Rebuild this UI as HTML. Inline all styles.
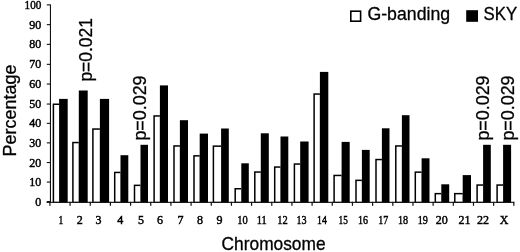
<!DOCTYPE html><html><head><meta charset="utf-8"><style>html,body{margin:0;padding:0;background:#fff;}body{width:520px;height:252px;overflow:hidden;}svg{display:block;filter:grayscale(1);}.s{font-family:"Liberation Sans",sans-serif;stroke:#000;stroke-width:0.3px;}.r{font-family:"Liberation Serif",serif;font-weight:bold;}.q{font-family:"Liberation Serif",serif;}</style></head><body>
<svg width="520" height="252" viewBox="0 0 520 252">
<rect x="0" y="0" width="520" height="252" fill="#fff"/>
<rect x="52.65" y="103.50" width="6.45" height="99.30" fill="#000"/>
<rect x="54.15" y="105.00" width="4.95" height="96.80" fill="#fff"/>
<rect x="59.10" y="98.90" width="8.60" height="103.90" fill="#000"/>
<rect x="72.15" y="141.80" width="6.65" height="61.00" fill="#000"/>
<rect x="73.65" y="143.30" width="5.15" height="58.50" fill="#fff"/>
<rect x="78.80" y="90.50" width="8.90" height="112.30" fill="#000"/>
<rect x="92.15" y="128.30" width="7.75" height="74.50" fill="#000"/>
<rect x="93.65" y="129.80" width="6.25" height="72.00" fill="#fff"/>
<rect x="99.90" y="98.90" width="9.20" height="103.90" fill="#000"/>
<rect x="113.95" y="171.70" width="6.55" height="31.10" fill="#000"/>
<rect x="115.45" y="173.20" width="5.05" height="28.60" fill="#fff"/>
<rect x="120.50" y="155.20" width="7.80" height="47.60" fill="#000"/>
<rect x="133.75" y="184.60" width="6.75" height="18.20" fill="#000"/>
<rect x="135.25" y="186.10" width="5.25" height="15.70" fill="#fff"/>
<rect x="140.50" y="144.80" width="7.50" height="58.00" fill="#000"/>
<rect x="153.35" y="115.20" width="6.55" height="87.60" fill="#000"/>
<rect x="154.85" y="116.70" width="5.05" height="85.10" fill="#fff"/>
<rect x="159.90" y="85.40" width="8.10" height="117.40" fill="#000"/>
<rect x="173.25" y="145.20" width="6.65" height="57.60" fill="#000"/>
<rect x="174.75" y="146.70" width="5.15" height="55.10" fill="#fff"/>
<rect x="179.90" y="120.20" width="8.10" height="82.60" fill="#000"/>
<rect x="193.25" y="155.10" width="6.45" height="47.70" fill="#000"/>
<rect x="194.75" y="156.60" width="4.95" height="45.20" fill="#fff"/>
<rect x="199.70" y="133.60" width="8.30" height="69.20" fill="#000"/>
<rect x="212.65" y="145.40" width="8.45" height="57.40" fill="#000"/>
<rect x="214.15" y="146.90" width="6.95" height="54.90" fill="#fff"/>
<rect x="221.10" y="128.50" width="7.70" height="74.30" fill="#000"/>
<rect x="234.45" y="188.00" width="6.85" height="14.80" fill="#000"/>
<rect x="235.95" y="189.50" width="5.35" height="12.30" fill="#fff"/>
<rect x="241.30" y="163.30" width="7.50" height="39.50" fill="#000"/>
<rect x="254.05" y="171.30" width="6.75" height="31.50" fill="#000"/>
<rect x="255.55" y="172.80" width="5.25" height="29.00" fill="#fff"/>
<rect x="260.80" y="133.30" width="8.00" height="69.50" fill="#000"/>
<rect x="273.95" y="166.30" width="6.55" height="36.50" fill="#000"/>
<rect x="275.45" y="167.80" width="5.05" height="34.00" fill="#fff"/>
<rect x="280.50" y="136.50" width="7.80" height="66.30" fill="#000"/>
<rect x="293.65" y="163.30" width="6.55" height="39.50" fill="#000"/>
<rect x="295.15" y="164.80" width="5.05" height="37.00" fill="#fff"/>
<rect x="300.20" y="141.50" width="8.40" height="61.30" fill="#000"/>
<rect x="313.35" y="93.30" width="6.55" height="109.50" fill="#000"/>
<rect x="314.85" y="94.80" width="5.05" height="107.00" fill="#fff"/>
<rect x="319.90" y="71.90" width="8.40" height="130.90" fill="#000"/>
<rect x="333.35" y="174.70" width="8.25" height="28.10" fill="#000"/>
<rect x="334.85" y="176.20" width="6.75" height="25.60" fill="#fff"/>
<rect x="341.60" y="141.90" width="8.10" height="60.90" fill="#000"/>
<rect x="355.25" y="179.60" width="6.65" height="23.20" fill="#000"/>
<rect x="356.75" y="181.10" width="5.15" height="20.70" fill="#fff"/>
<rect x="361.90" y="149.90" width="7.80" height="52.90" fill="#000"/>
<rect x="375.25" y="158.80" width="6.65" height="44.00" fill="#000"/>
<rect x="376.75" y="160.30" width="5.15" height="41.50" fill="#fff"/>
<rect x="381.90" y="128.30" width="7.60" height="74.50" fill="#000"/>
<rect x="395.05" y="145.20" width="6.85" height="57.60" fill="#000"/>
<rect x="396.55" y="146.70" width="5.35" height="55.10" fill="#fff"/>
<rect x="401.90" y="115.20" width="7.60" height="87.60" fill="#000"/>
<rect x="414.55" y="171.40" width="7.05" height="31.40" fill="#000"/>
<rect x="416.05" y="172.90" width="5.55" height="28.90" fill="#fff"/>
<rect x="421.60" y="158.30" width="7.90" height="44.50" fill="#000"/>
<rect x="434.55" y="192.90" width="6.75" height="9.90" fill="#000"/>
<rect x="436.05" y="194.40" width="5.25" height="7.40" fill="#fff"/>
<rect x="441.30" y="184.30" width="7.90" height="18.50" fill="#000"/>
<rect x="454.05" y="192.90" width="8.65" height="9.90" fill="#000"/>
<rect x="455.55" y="194.40" width="7.15" height="7.40" fill="#fff"/>
<rect x="462.70" y="175.10" width="8.30" height="27.70" fill="#000"/>
<rect x="476.35" y="184.30" width="6.75" height="18.50" fill="#000"/>
<rect x="477.85" y="185.80" width="5.25" height="16.00" fill="#fff"/>
<rect x="483.10" y="144.80" width="7.70" height="58.00" fill="#000"/>
<rect x="496.35" y="184.30" width="6.75" height="18.50" fill="#000"/>
<rect x="497.85" y="185.80" width="5.25" height="16.00" fill="#fff"/>
<rect x="503.10" y="144.80" width="8.00" height="58.00" fill="#000"/>
<rect x="49.9" y="4.5" width="1.1" height="198.30" fill="#111"/>
<rect x="46.5" y="201.80" width="467.81" height="1.1" fill="#111"/>
<rect x="46.8" y="4.30" width="3.5" height="1.1" fill="#111"/>
<text class="q" transform="translate(41.3,8.80) scale(0.93,1)" font-size="12" text-anchor="end" fill="#000" stroke="#000" stroke-width="0.45">100</text>
<rect x="46.8" y="24.10" width="3.5" height="1.1" fill="#111"/>
<text class="q" transform="translate(41.3,28.60) scale(1.0,1)" font-size="12" text-anchor="end" fill="#000" stroke="#000" stroke-width="0.45">90</text>
<rect x="46.8" y="43.80" width="3.5" height="1.1" fill="#111"/>
<text class="q" transform="translate(41.3,48.30) scale(1.0,1)" font-size="12" text-anchor="end" fill="#000" stroke="#000" stroke-width="0.45">80</text>
<rect x="46.8" y="63.80" width="3.5" height="1.1" fill="#111"/>
<text class="q" transform="translate(41.3,68.30) scale(1.0,1)" font-size="12" text-anchor="end" fill="#000" stroke="#000" stroke-width="0.45">70</text>
<rect x="46.8" y="83.50" width="3.5" height="1.1" fill="#111"/>
<text class="q" transform="translate(41.3,88.00) scale(1.0,1)" font-size="12" text-anchor="end" fill="#000" stroke="#000" stroke-width="0.45">60</text>
<rect x="46.8" y="103.50" width="3.5" height="1.1" fill="#111"/>
<text class="q" transform="translate(41.3,108.00) scale(1.0,1)" font-size="12" text-anchor="end" fill="#000" stroke="#000" stroke-width="0.45">50</text>
<rect x="46.8" y="122.80" width="3.5" height="1.1" fill="#111"/>
<text class="q" transform="translate(41.3,127.30) scale(1.0,1)" font-size="12" text-anchor="end" fill="#000" stroke="#000" stroke-width="0.45">40</text>
<rect x="46.8" y="142.30" width="3.5" height="1.1" fill="#111"/>
<text class="q" transform="translate(41.3,146.80) scale(1.0,1)" font-size="12" text-anchor="end" fill="#000" stroke="#000" stroke-width="0.45">30</text>
<rect x="46.8" y="162.00" width="3.5" height="1.1" fill="#111"/>
<text class="q" transform="translate(41.3,166.50) scale(1.0,1)" font-size="12" text-anchor="end" fill="#000" stroke="#000" stroke-width="0.45">20</text>
<rect x="46.8" y="181.50" width="3.5" height="1.1" fill="#111"/>
<text class="q" transform="translate(41.3,186.00) scale(1.0,1)" font-size="12" text-anchor="end" fill="#000" stroke="#000" stroke-width="0.45">10</text>
<rect x="46.8" y="201.00" width="3.5" height="1.1" fill="#111"/>
<text class="q" transform="translate(41.3,205.50) scale(1.0,1)" font-size="12" text-anchor="end" fill="#000" stroke="#000" stroke-width="0.45">0</text>
<rect x="49.30" y="201.80" width="1.2" height="4" fill="#111"/>
<rect x="69.47" y="201.80" width="1.2" height="4" fill="#111"/>
<rect x="89.64" y="201.80" width="1.2" height="4" fill="#111"/>
<rect x="109.81" y="201.80" width="1.2" height="4" fill="#111"/>
<rect x="129.98" y="201.80" width="1.2" height="4" fill="#111"/>
<rect x="150.15" y="201.80" width="1.2" height="4" fill="#111"/>
<rect x="170.32" y="201.80" width="1.2" height="4" fill="#111"/>
<rect x="190.49" y="201.80" width="1.2" height="4" fill="#111"/>
<rect x="210.66" y="201.80" width="1.2" height="4" fill="#111"/>
<rect x="230.83" y="201.80" width="1.2" height="4" fill="#111"/>
<rect x="251.00" y="201.80" width="1.2" height="4" fill="#111"/>
<rect x="271.17" y="201.80" width="1.2" height="4" fill="#111"/>
<rect x="291.34" y="201.80" width="1.2" height="4" fill="#111"/>
<rect x="311.51" y="201.80" width="1.2" height="4" fill="#111"/>
<rect x="331.68" y="201.80" width="1.2" height="4" fill="#111"/>
<rect x="351.85" y="201.80" width="1.2" height="4" fill="#111"/>
<rect x="372.02" y="201.80" width="1.2" height="4" fill="#111"/>
<rect x="392.19" y="201.80" width="1.2" height="4" fill="#111"/>
<rect x="412.36" y="201.80" width="1.2" height="4" fill="#111"/>
<rect x="432.53" y="201.80" width="1.2" height="4" fill="#111"/>
<rect x="452.70" y="201.80" width="1.2" height="4" fill="#111"/>
<rect x="472.87" y="201.80" width="1.2" height="4" fill="#111"/>
<rect x="493.04" y="201.80" width="1.2" height="4" fill="#111"/>
<rect x="513.21" y="201.80" width="1.2" height="4" fill="#111"/>
<text class="q" transform="translate(60.90,223.9) scale(0.800,1)" font-size="12" text-anchor="middle" fill="#000" stroke="#000" stroke-width="0.45">1</text>
<text class="q" transform="translate(79.85,223.9) scale(1.000,1)" font-size="12" text-anchor="middle" fill="#000" stroke="#000" stroke-width="0.45">2</text>
<text class="q" transform="translate(98.40,223.9) scale(1.000,1)" font-size="12" text-anchor="middle" fill="#000" stroke="#000" stroke-width="0.45">3</text>
<text class="q" transform="translate(120.35,223.9) scale(1.000,1)" font-size="12" text-anchor="middle" fill="#000" stroke="#000" stroke-width="0.45">4</text>
<text class="q" transform="translate(140.90,223.9) scale(1.000,1)" font-size="12" text-anchor="middle" fill="#000" stroke="#000" stroke-width="0.45">5</text>
<text class="q" transform="translate(160.10,223.9) scale(1.000,1)" font-size="12" text-anchor="middle" fill="#000" stroke="#000" stroke-width="0.45">6</text>
<text class="q" transform="translate(180.60,223.9) scale(1.000,1)" font-size="12" text-anchor="middle" fill="#000" stroke="#000" stroke-width="0.45">7</text>
<text class="q" transform="translate(200.00,223.9) scale(1.000,1)" font-size="12" text-anchor="middle" fill="#000" stroke="#000" stroke-width="0.45">8</text>
<text class="q" transform="translate(219.60,223.9) scale(1.000,1)" font-size="12" text-anchor="middle" fill="#000" stroke="#000" stroke-width="0.45">9</text>
<text class="q" transform="translate(242.60,223.9) scale(0.873,1)" font-size="12" text-anchor="middle" fill="#000" stroke="#000" stroke-width="0.45">10</text>
<text class="q" transform="translate(261.80,223.9) scale(0.870,1)" font-size="12" text-anchor="middle" fill="#000" stroke="#000" stroke-width="0.45">11</text>
<text class="q" transform="translate(282.50,223.9) scale(0.873,1)" font-size="12" text-anchor="middle" fill="#000" stroke="#000" stroke-width="0.45">12</text>
<text class="q" transform="translate(301.50,223.9) scale(0.845,1)" font-size="12" text-anchor="middle" fill="#000" stroke="#000" stroke-width="0.45">13</text>
<text class="q" transform="translate(322.00,223.9) scale(0.818,1)" font-size="12" text-anchor="middle" fill="#000" stroke="#000" stroke-width="0.45">14</text>
<text class="q" transform="translate(343.20,223.9) scale(0.773,1)" font-size="12" text-anchor="middle" fill="#000" stroke="#000" stroke-width="0.45">15</text>
<text class="q" transform="translate(363.10,223.9) scale(0.836,1)" font-size="12" text-anchor="middle" fill="#000" stroke="#000" stroke-width="0.45">16</text>
<text class="q" transform="translate(383.20,223.9) scale(0.836,1)" font-size="12" text-anchor="middle" fill="#000" stroke="#000" stroke-width="0.45">17</text>
<text class="q" transform="translate(403.00,223.9) scale(0.845,1)" font-size="12" text-anchor="middle" fill="#000" stroke="#000" stroke-width="0.45">18</text>
<text class="q" transform="translate(422.70,223.9) scale(0.845,1)" font-size="12" text-anchor="middle" fill="#000" stroke="#000" stroke-width="0.45">19</text>
<text class="q" transform="translate(441.80,223.9) scale(1.000,1)" font-size="12" text-anchor="middle" fill="#000" stroke="#000" stroke-width="0.45">20</text>
<text class="q" transform="translate(464.50,223.9) scale(1.000,1)" font-size="12" text-anchor="middle" fill="#000" stroke="#000" stroke-width="0.45">21</text>
<text class="q" transform="translate(483.00,223.9) scale(1.000,1)" font-size="12" text-anchor="middle" fill="#000" stroke="#000" stroke-width="0.45">22</text>
<text class="q" transform="translate(504.10,223.9) scale(1.000,1)" font-size="12" text-anchor="middle" fill="#000" stroke="#000" stroke-width="0.45">X</text>
<text class="s" transform="translate(221.6,250.2) scale(0.963,1)" font-size="18" fill="#000">Chromosome</text>
<text class="s" transform="translate(15.7,156.6) rotate(-90)" x="0" y="0" font-size="18" fill="#000">Percentage</text>
<text class="s" transform="translate(92.0,81.6) rotate(-90) scale(0.97,1)" x="0" y="0" font-size="18" fill="#000">p=0.021</text>
<text class="s" transform="translate(145.8,140.6) rotate(-90) scale(0.995,1)" x="0" y="0" font-size="18" fill="#000">p=0.029</text>
<text class="s" transform="translate(488.7,140.6) rotate(-90) scale(0.995,1)" x="0" y="0" font-size="18" fill="#000">p=0.029</text>
<text class="s" transform="translate(514.2,140.6) rotate(-90) scale(0.995,1)" x="0" y="0" font-size="18" fill="#000">p=0.029</text>
<rect x="350.8" y="11.2" width="9.8" height="10" fill="#fff" stroke="#000" stroke-width="1.6"/>
<text class="s" transform="translate(367.4,20.2) scale(0.985,1)" font-size="18" fill="#000">G-banding</text>
<rect x="466.2" y="10.2" width="11.8" height="11.6" fill="#000"/>
<text class="s" transform="translate(483.6,19.8) scale(0.935,1)" font-size="18" fill="#000">SKY</text>
</svg></body></html>
